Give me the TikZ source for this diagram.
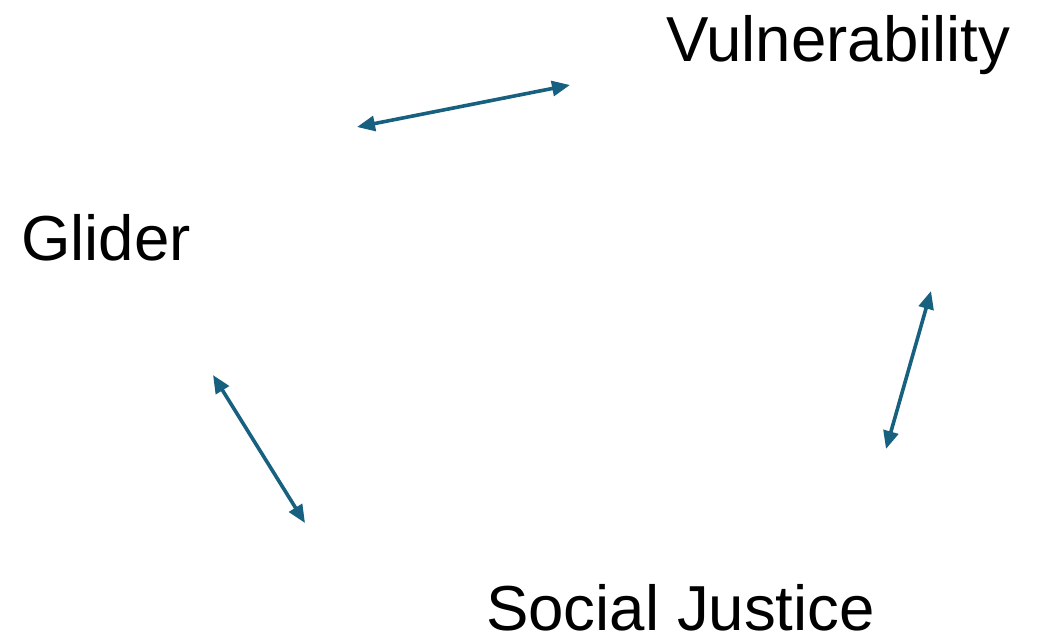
\documentclass[tikz,border=0pt]{standalone}
\usepackage{fontspec}
\setmainfont{Liberation Sans}
\usetikzlibrary{arrows.meta}
\definecolor{arrowblue}{HTML}{17607F}
\begin{document}
\begin{tikzpicture}[x=1pt,y=-1pt,
  lbl/.style={inner sep=0pt,anchor=base west,font=\fontsize{63.6}{70}\selectfont},
  link/.style={draw=arrowblue,line width=3.6pt,{Triangle[length=18pt,width=15pt]}-{Triangle[length=18pt,width=15pt]}}]
\useasboundingbox (0,0) rectangle (1040,641);
\node[lbl] (vul) at (666,61) {Vulnerability};
\node[lbl] (gli) at (21,260) {Glider};
\node[lbl] (soc) at (486,630) {Social Justice};
\coordinate (a1) at (357,127);
\coordinate (a2) at (570,85);
\coordinate (b1) at (213,375);
\coordinate (b2) at (305,523);
\coordinate (c1) at (931,291);
\coordinate (c2) at (886,449);
\draw[link] (a1) -- (a2);
\draw[link] (b1) -- (b2);
\draw[link] (c1) -- (c2);
\end{tikzpicture}
\end{document}
